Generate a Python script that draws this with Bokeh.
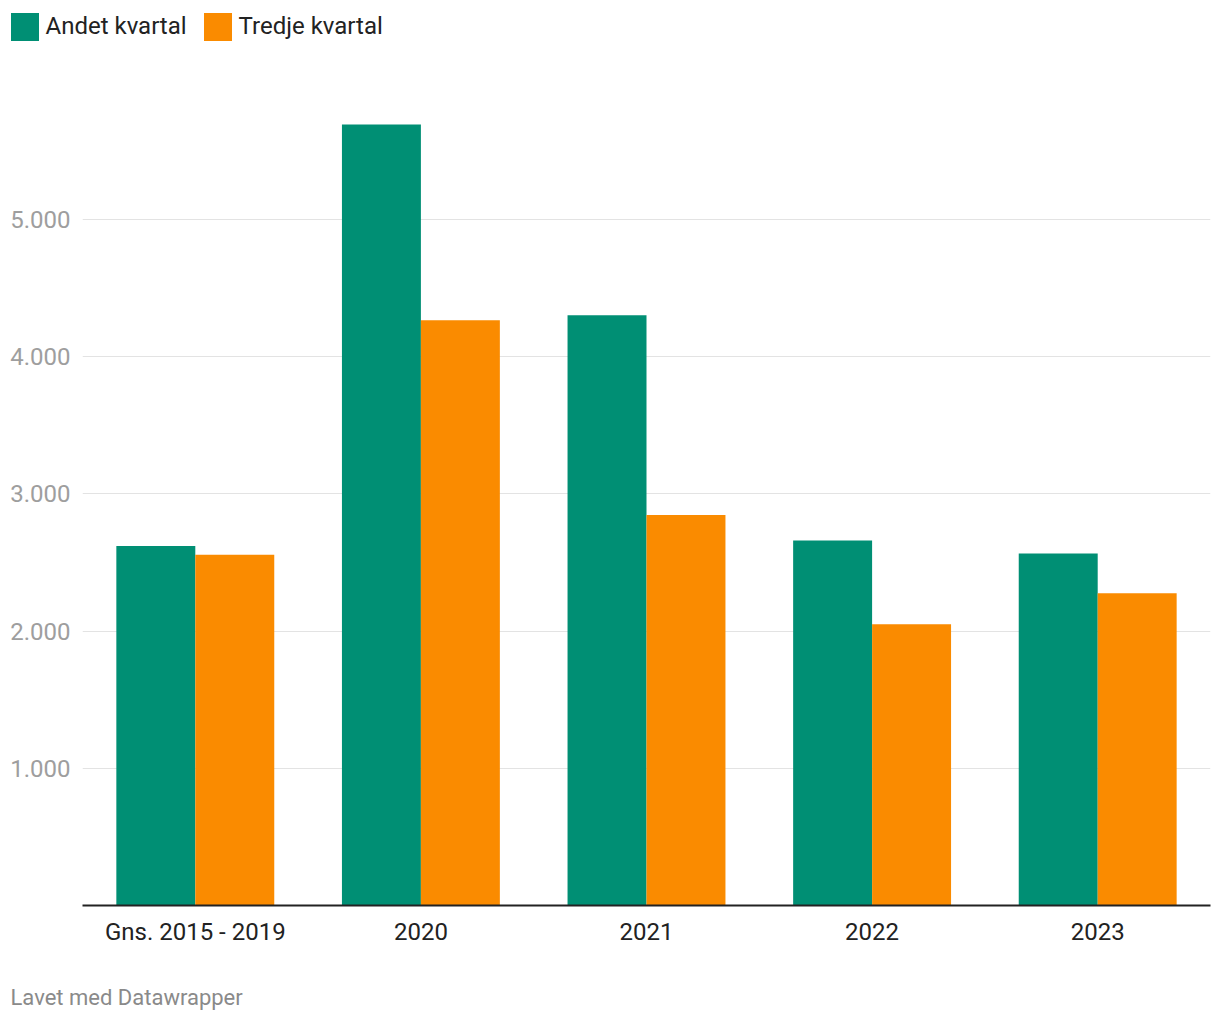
from bokeh.plotting import figure
from bokeh.layouts import column, row
from bokeh.models import ColumnDataSource, FactorRange, Range1d, FixedTicker, Legend, LegendItem, Label
from bokeh.transform import dodge
from bokeh.embed import file_html
from bokeh.resources import INLINE

categories = ["Gns. 2015 - 2019", "2020", "2021", "2022", "2023"]
andet_kvartal = [2620, 5690, 4300, 2660, 2565]
tredje_kvartal = [2555, 4265, 2845, 2050, 2275]
y_ticks = [1000, 2000, 3000, 4000, 5000]
y_tick_labels = ["1.000", "2.000", "3.000", "4.000", "5.000"]
series_names = ["Andet kvartal", "Tredje kvartal"]
colors = ["#008f74", "#fa8b00"]
footer_text = "Lavet med Datawrapper"

FONT = "Roboto"
W = 1216
LEG_H = 52
MAIN_H = 913
FOOT_H = 51


def strip(h):
    f = figure(width=W, height=h, x_range=Range1d(0, 1), y_range=Range1d(0, 1),
               x_axis_location=None, y_axis_location=None,
               output_backend="svg", toolbar_location=None,
               min_border=0, min_border_left=0, min_border_right=0,
               min_border_top=0, min_border_bottom=0)
    f.grid.visible = False
    f.outline_line_color = None
    return f


# ---- legend strip ----
leg = strip(LEG_H)
hidden = ColumnDataSource(dict(x=[-10], top=[-10]))
lr1 = leg.vbar(x="x", top="top", width=1, source=hidden, fill_color=colors[0], line_color=None)
lr2 = leg.vbar(x="x", top="top", width=1, source=hidden, fill_color=colors[1], line_color=None)
legend = Legend(items=[LegendItem(label=series_names[0], renderers=[lr1]),
                       LegendItem(label=series_names[1], renderers=[lr2])],
                location=(6.5, 8.5), orientation="horizontal",
                glyph_width=35, glyph_height=35, label_standoff=4, spacing=13,
                padding=0, margin=0, border_line_color=None, background_fill_alpha=0,
                label_text_font=FONT, label_text_font_size="24px", label_text_color="#222222",
                label_height=28)
leg.add_layout(legend, "center")

# ---- main chart ----
src = ColumnDataSource(dict(cat=categories, a=andet_kvartal, t=tredje_kvartal))

p = figure(width=W, height=MAIN_H, x_range=FactorRange(*categories, range_padding=0),
           y_range=Range1d(0, 5800), output_backend="svg", toolbar_location=None,
           min_border_left=82, min_border_right=W - 1210, min_border_top=57, min_border_bottom=60)

p.vbar(x=dodge("cat", -0.175, range=p.x_range), top="a", width=0.35, source=src,
       fill_color=colors[0], line_color=None)
p.vbar(x=dodge("cat", 0.175, range=p.x_range), top="t", width=0.35, source=src,
       fill_color=colors[1], line_color=None)

p.outline_line_color = None
p.xgrid.grid_line_color = None
p.ygrid.grid_line_color = "#e3e3e3"
p.ygrid.grid_line_width = 1
p.yaxis.ticker = FixedTicker(ticks=y_ticks)
p.yaxis.major_label_overrides = {t: l for t, l in zip(y_ticks, y_tick_labels)}
p.yaxis.axis_line_color = None
p.yaxis.major_tick_line_color = None
p.yaxis.minor_tick_line_color = None
p.yaxis.major_tick_out = 0
p.yaxis.major_label_standoff = 12
p.yaxis.major_label_text_font = FONT
p.yaxis.major_label_text_font_size = "24px"
p.yaxis.major_label_text_color = "#9e9e9e"

p.xaxis.axis_line_color = "#222222"
p.xaxis.axis_line_width = 2
p.xaxis.major_tick_line_color = None
p.xaxis.minor_tick_line_color = None
p.xaxis.major_tick_out = 0
p.xaxis.major_label_standoff = 12
p.xaxis.major_label_text_font = FONT
p.xaxis.major_label_text_font_size = "24px"
p.xaxis.major_label_text_color = "#222222"

# ---- footer strip ----
foot = strip(FOOT_H)
foot.add_layout(Label(x=10, y=FOOT_H - 32, x_units="screen", y_units="screen", text=footer_text,
                      text_font=FONT, text_font_size="22px", text_color="#8a8a8a",
                      text_baseline="middle"))

layout = column(row(leg), row(p), row(foot), spacing=0)
open("out.html", "w").write(file_html(layout, INLINE))
